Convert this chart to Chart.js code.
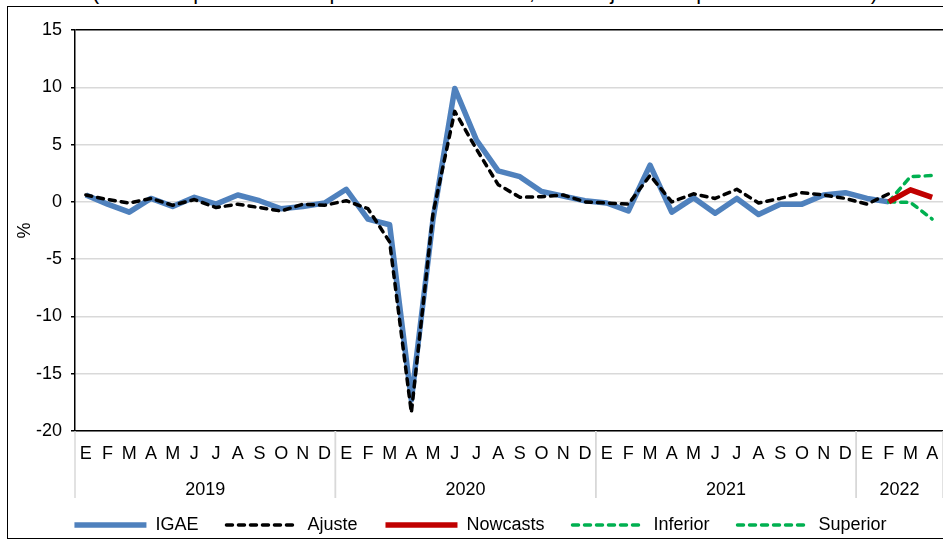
<!DOCTYPE html>
<html>
<head>
<meta charset="utf-8">
<script src="https://cdn.jsdelivr.net/npm/chart.js@4"></script>
<style>
  html, body { margin: 0; padding: 0; background: #fff; overflow: hidden; }
  body { width: 943px; height: 541px; position: relative; }
  #frame { position: absolute; left: 7px; top: 6px; width: 1000px; height: 531px; border: 1.5px solid #000; }
  #title { position: absolute; left: 80px; width: 810px; top: -19px; text-align: center;
           font: 21.5px 'Liberation Sans', Arial, sans-serif; line-height: 22px; white-space: nowrap; }
  canvas { position: absolute; left: 0; top: 0; }
</style>
</head>
<body>
<div id="frame"></div>
<div id="title">(Variación porcentual respecto al mes anterior, cifras ajustadas por estacionalidad)</div>
<canvas id="chart" width="943" height="560"></canvas>
<script>
    const monthLetters = ['E', 'F', 'M', 'A', 'M', 'J', 'J', 'A', 'S', 'O', 'N', 'D'];
    const years = ['2019', '2020', '2021', '2022'];
    const monthsPerYear = [12, 12, 12, 4];

    const igae = [
      0.6, -0.2, -0.9, 0.3, -0.4, 0.4, -0.2, 0.6, 0.1, -0.6, -0.4, -0.1,
      1.1, -1.5, -2.0, -17.3, -1.5, 9.9, 5.4, 2.7, 2.2, 0.9, 0.5, 0.1,
      -0.1, -0.8, 3.2, -0.9, 0.35, -1.0, 0.3, -1.1, -0.2, -0.2, 0.6, 0.8,
      0.3, 0.0
    ];
    const ajuste = [
      0.6, 0.2, -0.1, 0.3, -0.3, 0.2, -0.5, -0.2, -0.5, -0.8, -0.2, -0.3,
      0.1, -0.6, -3.5, -18.4, -1.0, 7.9, 4.6, 1.5, 0.4, 0.45, 0.6, 0.0,
      -0.1, -0.2, 2.3, 0.0, 0.7, 0.3, 1.1, -0.1, 0.3, 0.8, 0.6, 0.3,
      -0.2, 0.7
    ];
    // forecast window: F, M, A 2022
    const forecastStart = 37;
    const nowcasts = [0.0, 1.05, 0.4];
    const inferior = [0.0, -0.05, -1.5];
    const superior = [0.0, 2.2, 2.3];

    const yTicks = { min: -20, max: 15, step: 5 };

    const labels = [];
    monthsPerYear.forEach(n => labels.push(...monthLetters.slice(0, n)));
    const pad = arr => Array(forecastStart).fill(null).concat(arr);

    const FONT = "'Liberation Sans', Arial, sans-serif";
    const GRID = '#d9d9d9';

    // year row below the month letters, with separators
    const yearRow = {
      id: 'yearRow',
      afterDraw(chart) {
        const x = chart.scales.x;
        const area = chart.chartArea;
        const ctx = chart.ctx;
        const step = x.getPixelForTick(1) - x.getPixelForTick(0);
        ctx.save();
        ctx.strokeStyle = GRID;
        ctx.lineWidth = 1.5;
        ctx.fillStyle = '#000';
        ctx.font = '18px ' + FONT;
        ctx.textAlign = 'center';
        ctx.textBaseline = 'middle';
        let start = 0;
        years.forEach((yr, k) => {
          const n = monthsPerYear[k];
          const left = x.getPixelForTick(start) - step / 2;
          const right = x.getPixelForTick(start + n - 1) + step / 2;
          ctx.beginPath();
          ctx.moveTo(left, area.bottom);
          ctx.lineTo(left, area.bottom + 67);
          ctx.moveTo(right, area.bottom);
          ctx.lineTo(right, area.bottom + 67);
          ctx.stroke();
          ctx.fillText(yr, (left + right) / 2, area.bottom + 59);
          start += n;
        });
        ctx.restore();
      }
    };

    const dashed = { borderWidth: 3.5, borderDash: [6, 6], borderCapStyle: 'round' };

    new Chart(document.getElementById('chart'), {
      type: 'line',
      data: {
        labels,
        datasets: [
          { label: 'IGAE', data: igae, borderColor: '#4f81bd', backgroundColor: '#4f81bd', borderWidth: 5.5, order: 5 },
          { label: 'Ajuste', data: ajuste, borderColor: '#000', backgroundColor: '#000', ...dashed, order: 4 },
          { label: 'Nowcasts', data: pad(nowcasts), borderColor: '#c00000', backgroundColor: '#c00000', borderWidth: 5.5, order: 1 },
          { label: 'Inferior', data: pad(inferior), borderColor: '#00b050', backgroundColor: '#00b050', ...dashed, order: 3 },
          { label: 'Superior', data: pad(superior), borderColor: '#00b050', backgroundColor: '#00b050', ...dashed, order: 2 }
        ]
      },
      options: {
        responsive: false,
        animation: false,
        layout: { padding: { top: 30, left: 17, right: -1, bottom: 16 } },
        elements: { point: { radius: 0 }, line: { tension: 0, borderJoinStyle: 'round' } },
        plugins: {
          tooltip: { enabled: false },
          legend: {
            position: 'bottom',
            labels: {
              usePointStyle: true,
              pointStyle: 'line',
              pointStyleWidth: 72,
              padding: 28,
              color: '#000',
              font: { family: FONT, size: 18 },
              sort: (a, b) => a.datasetIndex - b.datasetIndex,
              generateLabels: chart => Chart.defaults.plugins.legend.labels.generateLabels(chart).map(item => {
                const ds = chart.data.datasets[item.datasetIndex];
                return { ...item, lineDash: ds.borderDash || [], lineWidth: ds.borderWidth, lineCap: ds.borderCapStyle || 'butt' };
              })
            }
          }
        },
        scales: {
          x: {
            offset: true,
            grid: { display: false, drawTicks: false, tickLength: 0 },
            border: { color: '#000', width: 1.5 },
            ticks: { autoSkip: false, maxRotation: 0, padding: 12, color: '#000', font: { family: FONT, size: 18 } },
            afterFit: s => { s.height = 57; s.paddingLeft = 0; s.paddingRight = 0; }
          },
          y: {
            min: yTicks.min,
            max: yTicks.max,
            grid: {
              color: c => c.tick && c.tick.value === yTicks.max ? '#000' : GRID,
              lineWidth: 1.5,
              tickColor: '#000',
              tickLength: 4
            },
            border: { color: '#000', width: 1.5 },
            ticks: { stepSize: yTicks.step, padding: 9, color: '#000', font: { family: FONT, size: 18 } },
            title: { display: true, text: '%', color: '#000', font: { family: FONT, size: 18 }, padding: { top: -3, bottom: 0 } },
            afterFit: s => { s.width = 58; }
          }
        }
      },
      plugins: [yearRow]
    });
</script>
</body>
</html>
